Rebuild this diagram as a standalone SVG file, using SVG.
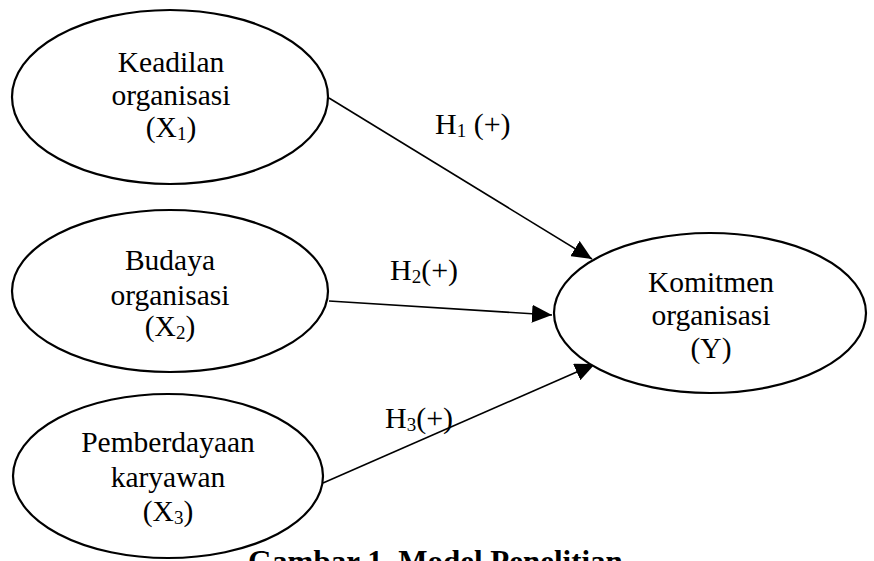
<svg xmlns="http://www.w3.org/2000/svg" width="874" height="561" viewBox="0 0 874 561">
<style>
.node ellipse{fill:#fff;stroke:#000;stroke-width:2.2}
.t{font-family:"Liberation Serif","Times New Roman",serif;font-size:29.5px;fill:#000;text-anchor:middle}
.lbl{font-family:"Liberation Serif","Times New Roman",serif;font-size:30px;fill:#000}
.sub{font-size:19px}
.edge{stroke:#000;stroke-width:1.6;fill:none;marker-end:url(#ah)}
.title{font-family:"Liberation Serif","Times New Roman",serif;font-size:31px;font-weight:bold;fill:#000}
</style>
<defs>
<marker id="ah" viewBox="0 0 20 18" refX="20" refY="9" markerWidth="20" markerHeight="18" markerUnits="userSpaceOnUse" orient="auto">
<path d="M0,0 L20,9 L0,18 Z" fill="#000"/>
</marker>
</defs>
<rect width="874" height="561" fill="#fff"/>
<g id="connectors">
<line class="edge" x1="329" y1="98" x2="592" y2="259"/>
<line class="edge" x1="329" y1="301" x2="552" y2="315"/>
<line class="edge" x1="323" y1="483" x2="595" y2="364"/>
<text class="lbl" x="435" y="134">H<tspan class="sub" dy="3">1</tspan><tspan dy="-3"> (+)</tspan></text>
<text class="lbl" x="390" y="280">H<tspan class="sub" dy="3">2</tspan><tspan dy="-3">(+)</tspan></text>
<text class="lbl" x="385" y="428">H<tspan class="sub" dy="3">3</tspan><tspan dy="-3">(+)</tspan></text>
</g>
<g id="x1" class="node">
<ellipse cx="170" cy="97" rx="158" ry="87"/>
<text class="t" x="171" y="72">Keadilan</text>
<text class="t" x="171" y="105">organisasi</text>
<text class="t" x="171" y="137">(X<tspan class="sub" dy="3">1</tspan><tspan dy="-3">)</tspan></text>
</g>
<g id="x2" class="node">
<ellipse cx="170" cy="291" rx="158" ry="81"/>
<text class="t" x="170" y="270">Budaya</text>
<text class="t" x="170" y="305">organisasi</text>
<text class="t" x="170" y="336">(X<tspan class="sub" dy="3">2</tspan><tspan dy="-3">)</tspan></text>
</g>
<g id="x3" class="node">
<ellipse cx="168" cy="476" rx="155" ry="82"/>
<text class="t" x="168" y="452">Pemberdayaan</text>
<text class="t" x="168" y="487">karyawan</text>
<text class="t" x="168" y="521">(X<tspan class="sub" dy="3">3</tspan><tspan dy="-3">)</tspan></text>
</g>
<g id="y" class="node">
<ellipse cx="710" cy="313" rx="156" ry="80"/>
<text class="t" x="711" y="292">Komitmen</text>
<text class="t" x="711" y="325">organisasi</text>
<text class="t" x="711" y="358">(Y)</text>
</g>
<text class="title" x="248" y="572">Gambar 1. Model Penelitian</text>
</svg>
